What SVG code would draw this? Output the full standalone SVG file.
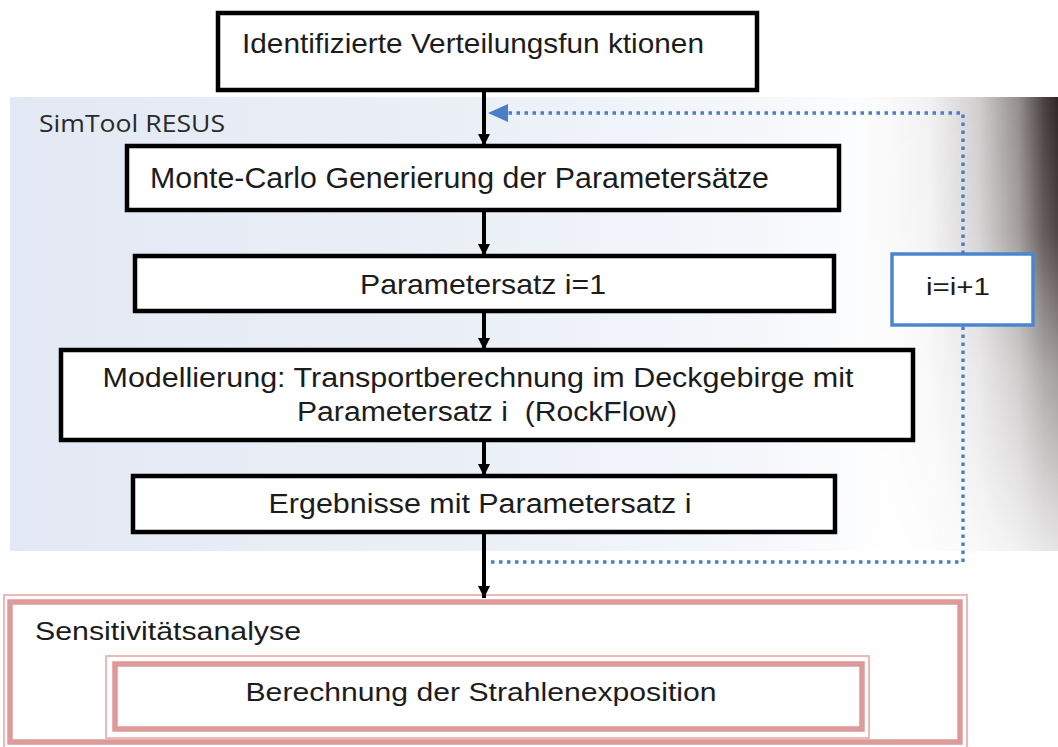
<svg xmlns="http://www.w3.org/2000/svg" width="1058" height="747" viewBox="0 0 1058 747">
  <defs>
    <style>
      .box { fill: #ffffff; stroke: #000000; stroke-width: 4.5; }
      .t { font-family: "Liberation Sans", Arial, sans-serif; fill: #1c1c1c; }
      .blue { fill: #ffffff; stroke: #4a86d0; stroke-width: 3.5; }
      .dot { fill: none; stroke: #4a7fc8; stroke-width: 3.4; stroke-dasharray: 3.5 4.5; }
      .pinkThin { fill: none; stroke: #ecb8b8; stroke-width: 2; }
      .pinkThick { fill: none; stroke: #de9a9a; stroke-width: 5.5; }
      .arr { stroke: #000000; stroke-width: 4; fill: none; }
    </style>
    <linearGradient id="panelGrad" x1="0" y1="0" x2="1" y2="0">
      <stop offset="0" stop-color="#e3e9f4"/>
      <stop offset="0.45" stop-color="#ebf0f7"/>
      <stop offset="0.72" stop-color="#f5f7fb"/>
      <stop offset="0.84" stop-color="#ffffff"/>
      <stop offset="1" stop-color="#ffffff"/>
    </linearGradient>
    <linearGradient id="darkGrad" x1="0" y1="0" x2="1" y2="0">
      <stop offset="0" stop-color="#2a1e1e" stop-opacity="0"/>
      <stop offset="0.35" stop-color="#2a1e1e" stop-opacity="0.06"/>
      <stop offset="0.6" stop-color="#2a1e1e" stop-opacity="0.22"/>
      <stop offset="0.8" stop-color="#2a1e1e" stop-opacity="0.5"/>
      <stop offset="0.93" stop-color="#2a1e1e" stop-opacity="0.85"/>
      <stop offset="1" stop-color="#2a1e1e" stop-opacity="0.97"/>
    </linearGradient>
    <linearGradient id="fadeV" x1="0" y1="0" x2="0" y2="1">
      <stop offset="0" stop-color="#ffffff" stop-opacity="1"/>
      <stop offset="0.3" stop-color="#ffffff" stop-opacity="0.85"/>
      <stop offset="0.6" stop-color="#ffffff" stop-opacity="0.45"/>
      <stop offset="1" stop-color="#ffffff" stop-opacity="0.12"/>
    </linearGradient>
    <mask id="darkMask" maskUnits="userSpaceOnUse" x="860" y="97" width="198" height="454">
      <rect x="860" y="97" width="198" height="454" fill="url(#fadeV)"/>
    </mask>
    <marker id="ah" viewBox="0 0 12 12" refX="12" refY="6" markerWidth="12" markerHeight="12" markerUnits="userSpaceOnUse" orient="auto">
      <path d="M0,0 L12,6 L0,12 Z" fill="#000000"/>
    </marker>
  </defs>

  <rect x="0" y="0" width="1058" height="747" fill="#ffffff"/>

  <g id="panel-simtool">
    <rect x="10" y="97" width="1048" height="454" fill="url(#panelGrad)"/>
    <rect x="860" y="97" width="198" height="454" fill="url(#darkGrad)" mask="url(#darkMask)"/>
    <text x="39" y="132" font-family="'Open Sans', 'DejaVu Sans', sans-serif" font-size="24" fill="#2a2a2a" textLength="186" lengthAdjust="spacingAndGlyphs">SimTool RESUS</text>
  </g>

  <g id="node-verteilung">
    <rect class="box" x="218" y="13" width="539" height="77"/>
    <text class="t" x="242" y="53" font-size="28" textLength="462" lengthAdjust="spacingAndGlyphs">Identifizierte Verteilungsfun ktionen</text>
  </g>

  <g id="node-montecarlo">
    <rect class="box" x="127" y="146" width="712" height="64"/>
    <text class="t" x="150" y="188" font-size="29" textLength="619" lengthAdjust="spacingAndGlyphs">Monte-Carlo Generierung der Parametersätze</text>
  </g>

  <g id="node-parametersatz">
    <rect class="box" x="135" y="256" width="699" height="55"/>
    <text class="t" x="483" y="294" font-size="28" text-anchor="middle" textLength="246" lengthAdjust="spacingAndGlyphs">Parametersatz i=1</text>
  </g>

  <g id="node-modellierung">
    <rect class="box" x="61" y="350" width="852" height="90"/>
    <text class="t" x="478" y="387" font-size="27" text-anchor="middle" textLength="751" lengthAdjust="spacingAndGlyphs">Modellierung: Transportberechnung im Deckgebirge mit</text>
    <text class="t" x="487" y="421" font-size="27" text-anchor="middle" textLength="380" lengthAdjust="spacingAndGlyphs" style="white-space:pre">Parametersatz i  (RockFlow)</text>
  </g>

  <g id="node-ergebnisse">
    <rect class="box" x="133" y="476" width="702" height="56"/>
    <text class="t" x="480" y="513" font-size="27" text-anchor="middle" textLength="423" lengthAdjust="spacingAndGlyphs">Ergebnisse mit Parametersatz i</text>
  </g>

  <g id="node-increment">
    <rect class="blue" x="892" y="254" width="141" height="71"/>
    <text class="t" x="958" y="295" font-size="23" text-anchor="middle" textLength="64" lengthAdjust="spacingAndGlyphs">i=i+1</text>
  </g>

  <g id="node-sensitivitaet">
    <rect class="pinkThin" x="4" y="595" width="963" height="156"/>
    <rect class="pinkThick" x="10" y="602" width="950" height="140"/>
    <text class="t" x="35" y="640" font-size="26" textLength="266" lengthAdjust="spacingAndGlyphs">Sensitivitätsanalyse</text>
  </g>

  <g id="node-strahlenexposition">
    <rect class="pinkThin" x="106" y="656" width="763" height="82"/>
    <rect class="pinkThick" x="115" y="664" width="747" height="65"/>
    <text class="t" x="481" y="701" font-size="26" text-anchor="middle" textLength="471" lengthAdjust="spacingAndGlyphs">Berechnung der Strahlenexposition</text>
  </g>

  <g id="connectors">
    <line class="arr" x1="484" y1="92" x2="484" y2="146" marker-end="url(#ah)"/>
    <line class="arr" x1="484" y1="212" x2="484" y2="256" marker-end="url(#ah)"/>
    <line class="arr" x1="484" y1="313" x2="484" y2="350" marker-end="url(#ah)"/>
    <line class="arr" x1="484" y1="442" x2="484" y2="476" marker-end="url(#ah)"/>
    <line class="arr" x1="484" y1="534" x2="484" y2="598" marker-end="url(#ah)"/>
    <polyline class="dot" points="491,562 963,562 963,325"/>
    <polyline class="dot" points="963,254 963,113 505,113"/>
    <path d="M488,113 L508,104 L508,122 Z" fill="#4a7fc8"/>
  </g>
</svg>
